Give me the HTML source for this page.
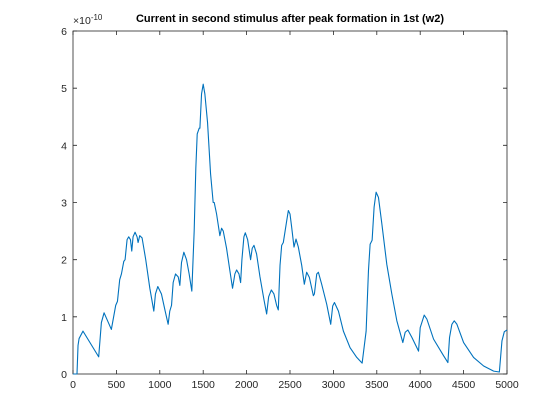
<!DOCTYPE html>
<html><head><meta charset="utf-8"><style>
body{margin:0;background:#fff;}
svg{display:block;font-family:"Liberation Sans",sans-serif;}
</style></head><body>
<svg width="560" height="420">
<rect width="560" height="420" fill="#fff"/>
<g id="g"></g>
</svg>
<script>
const xs=[0,46,58,70,115,296,327,358,442,492,512,538,558,585,600,623,642,662,677,692,715,738,750,769,796,838,885,931,950,977,1019,1062,1096,1115,1135,1154,1181,1212,1231,1250,1277,1308,1338,1369,1396,1415,1431,1454,1462,1481,1500,1519,1550,1585,1615,1627,1654,1692,1712,1731,1769,1808,1838,1865,1885,1912,1931,1946,1969,1985,2012,2046,2065,2085,2115,2154,2200,2231,2254,2285,2315,2346,2365,2385,2404,2423,2462,2481,2500,2519,2546,2569,2596,2635,2665,2692,2723,2769,2781,2808,2827,2865,2923,2969,2992,3012,3058,3115,3192,3269,3331,3377,3404,3423,3446,3469,3492,3519,3558,3615,3673,3731,3800,3827,3858,3904,3981,4000,4046,4077,4154,4269,4319,4338,4365,4392,4423,4500,4615,4731,4846,4912,4942,4969,5000];
const ys=[0,0,0.5,0.62,0.75,0.3,0.9,1.07,0.78,1.2,1.27,1.65,1.75,1.97,2.0,2.35,2.4,2.35,2.15,2.4,2.48,2.4,2.3,2.42,2.38,2.0,1.5,1.1,1.4,1.53,1.4,1.1,0.87,1.1,1.2,1.6,1.75,1.7,1.55,1.95,2.13,2.0,1.75,1.45,2.5,3.6,4.2,4.3,4.3,4.9,5.07,4.9,4.4,3.5,3.0,3.0,2.8,2.42,2.55,2.5,2.2,1.8,1.5,1.75,1.82,1.75,1.6,2.0,2.4,2.47,2.35,2.0,2.2,2.25,2.1,1.7,1.3,1.05,1.35,1.47,1.4,1.2,1.12,1.9,2.25,2.3,2.68,2.86,2.8,2.57,2.22,2.36,2.22,1.9,1.57,1.78,1.69,1.37,1.4,1.75,1.78,1.57,1.22,0.87,1.19,1.25,1.1,0.75,0.46,0.29,0.19,0.75,1.81,2.27,2.34,2.92,3.18,3.09,2.63,1.92,1.4,0.93,0.55,0.73,0.77,0.64,0.4,0.81,1.03,0.96,0.61,0.32,0.2,0.64,0.87,0.93,0.87,0.55,0.29,0.14,0.05,0.035,0.58,0.74,0.77];
const xTicks=[0,500,1000,1500,2000,2500,3000,3500,4000,4500,5000];
const yTicks=[0,1,2,3,4,5,6];
const L=73,R=507,T=31,B=374;
const sx=v=>L+v/5000*(R-L), sy=v=>B-v/6*(B-T);
const NS="http://www.w3.org/2000/svg", g=document.getElementById('g');
function mk(t,a,txt){const e=document.createElementNS(NS,t);for(const k in a)e.setAttribute(k,a[k]);if(txt!=null)e.textContent=txt;g.appendChild(e);return e;}
let e=mk('rect',{x:L,y:T,width:R-L,height:B-T,fill:'none',stroke:'#262626','stroke-width':0.8});


xTicks.forEach(v=>{const x=sx(v);
 let t=mk('path',{d:`M${x},${B}v-4M${x},${T}v4`,stroke:'#262626','stroke-width':0.8});
 
 
 let l=mk('text',{x:x,y:B+14,'text-anchor':'middle','font-size':10.5,fill:'#262626'},v);
 
 });
yTicks.forEach(v=>{const y=sy(v);
 let t=mk('path',{d:`M${L},${y}h4M${R},${y}h-4`,stroke:'#262626','stroke-width':0.8});
 
 
 let l=mk('text',{x:L-6,y:y+4,'text-anchor':'end','font-size':10.5,fill:'#262626'},v);
 
 });
let ex=mk('text',{x:L,y:24,'font-size':10.5,fill:'#262626'});
ex.innerHTML='×10<tspan dy="-4" font-size="8">-10</tspan>';


let ti=mk('text',{x:(L+R)/2,y:22,'text-anchor':'middle','font-size':11,'font-weight':'bold',fill:'#000'},'Current in second stimulus after peak formation in 1st (w2)');


let ln=mk('polyline',{points:xs.map((x,i)=>sx(x)+','+sy(ys[i])).join(' '),fill:'none',stroke:'#0072bd','stroke-width':1.1,'stroke-linejoin':'round'});


</script>
</body></html>
